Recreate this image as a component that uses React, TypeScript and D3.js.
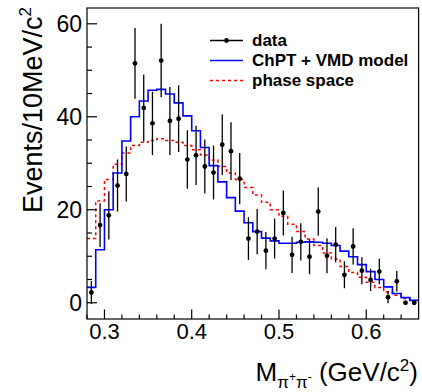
import React from "react";
import * as d3 from "d3";

// Bin lower edges start at 0.28 GeV/c^2, width 0.01
const binLow = [0.28,0.29,0.30,0.31,0.32,0.33,0.34,0.35,0.36,0.37,0.38,0.39,0.40,0.41,0.42,0.43,0.44,0.45,0.46,0.47,0.48,0.49,0.50,0.51,0.52,0.53,0.54,0.55,0.56,0.57,0.58,0.59,0.60,0.61,0.62,0.63,0.64,0.65];
const binWidth = 0.01;

const dataValues = [2.2,16.7,18.8,25.2,27.7,51.5,41.9,38.6,52.1,39.1,39.6,30.8,31.7,29.3,28.0,34.0,32.6,26.7,13.8,15.3,11.2,13.8,19.3,10.3,13.1,9.9,19.6,10.1,12.5,6.0,12.1,6.9,4.9,6.7,1.2,4.6,0,0];
const dataErrors = [2.5,4.7,5.2,5.6,5.9,7.6,7.2,6.8,7.9,7.3,7.2,6.3,6.35,5.8,5.8,6.5,6.2,5.5,4.6,4.85,4.0,4.3,4.85,3.9,4.0,3.75,5.2,3.75,3.8,2.9,3.9,2.9,2.4,2.75,1.3,2.2,0,0];
const modelValues = [3.3,11.4,20.0,27.9,34.8,40.0,43.4,45.7,45.9,44.9,43.0,40.2,37.0,33.4,29.5,26.0,22.6,19.7,17.2,15.3,13.9,13.3,12.8,12.8,13.0,13.1,13.0,12.8,12.3,11.1,9.9,8.2,6.7,5.0,3.4,2.0,1.1,0.5];
const phaseValues = [13.8,21.9,26.5,29.8,32.2,33.8,34.5,34.9,35.3,34.9,34.5,33.8,32.9,31.8,30.7,29.3,27.9,26.5,24.8,23.2,21.6,20.0,18.6,16.9,15.3,13.7,12.3,10.7,9.4,7.8,6.5,5.5,4.4,3.3,2.3,1.6,0.9,0.3];

const xMajorTicks = [0.3, 0.4, 0.5, 0.6];
const xMinorTicks = [0.28,0.32,0.34,0.36,0.38,0.42,0.44,0.46,0.48,0.52,0.54,0.56,0.58,0.62,0.64];
const yMajorTicks = [0, 20, 40, 60];
const yMinorTicks = [5, 10, 15, 25, 30, 35, 45, 50, 55];
const legendLabels = ["data", "ChPT + VMD model", "phase space"];

const W = 422, H = 392;
const frame = { left: 87, right: 418.6, top: 8, bottom: 319 };
const FONT = "'Liberation Sans', Arial, Helvetica, sans-serif";

export default function App() {
  const x = d3.scaleLinear().domain([0.28, 0.66]).range([frame.left, frame.right]);
  const y = d3.scaleLinear().domain([-3.5, 63.4]).range([frame.bottom, frame.top]);

  const stepLine = d3
    .line<[number, number]>()
    .x((d) => x(d[0]))
    .y((d) => y(d[1]))
    .curve(d3.curveStepAfter);

  const histPts = (vals: number[]): [number, number][] => {
    const pts: [number, number][] = binLow.map((b, i) => [b, vals[i]]);
    pts.push([binLow[binLow.length - 1] + binWidth, vals[vals.length - 1]]);
    return pts;
  };

  const legendY = [40.5, 60.5, 80.5];
  const lx0 = 210, lx1 = 243;

  return (
    <svg width={W} height={H} style={{ position: "absolute", left: 0, top: 0, background: "#fff" }} fontFamily={FONT}>
      <defs>
        <clipPath id="plotclip">
          <rect x={frame.left} y={frame.top} width={frame.right - frame.left} height={frame.bottom - frame.top} />
        </clipPath>
      </defs>
      <rect x={0} y={0} width={W} height={H} fill="#fff" />

      <g clipPath="url(#plotclip)">
        <path d={stepLine(histPts(phaseValues)) || ""} fill="none" stroke="#ff0000" strokeWidth={1.5} strokeDasharray="3,3" />
        <path d={stepLine(histPts(modelValues)) || ""} fill="none" stroke="#0000ff" strokeWidth={1.6} />
        {dataValues.map((v, i) => {
          const cx = x(binLow[i] + binWidth / 2);
          const e = dataErrors[i];
          return (
            <g key={i}>
              {e > 0 && (
                <line x1={cx} x2={cx} y1={y(v - e)} y2={y(v + e)} stroke="#000" strokeWidth={1.3} />
              )}
              <circle cx={cx} cy={y(v)} r={2.4} fill="#000" />
            </g>
          );
        })}
      </g>

      {/* frame */}
      <rect x={frame.left} y={frame.top} width={frame.right - frame.left} height={frame.bottom - frame.top} fill="none" stroke="#000" strokeWidth={1.2} />

      {/* y ticks */}
      {yMajorTicks.map((t) => (
        <g key={"ym" + t}>
          <line x1={frame.left} x2={frame.left + 10} y1={y(t)} y2={y(t)} stroke="#000" strokeWidth={1.2} />
          <text x={82} y={y(t)} dy="0.36em" textAnchor="end" fontSize={23}>{t}</text>
        </g>
      ))}
      {yMinorTicks.map((t) => (
        <line key={"yn" + t} x1={frame.left} x2={frame.left + 5} y1={y(t)} y2={y(t)} stroke="#000" strokeWidth={1.2} />
      ))}

      {/* x ticks */}
      {xMajorTicks.map((t) => (
        <g key={"xm" + t}>
          <line x1={x(t)} x2={x(t)} y1={frame.bottom} y2={frame.bottom - 9.5} stroke="#000" strokeWidth={1.2} />
          <text x={x(t)} y={338.5} textAnchor="middle" fontSize={22}>{t.toFixed(1)}</text>
        </g>
      ))}
      {xMinorTicks.map((t) => (
        <line key={"xn" + t} x1={x(t)} x2={x(t)} y1={frame.bottom} y2={frame.bottom - 4.5} stroke="#000" strokeWidth={1.2} />
      ))}

      {/* axis titles */}
      <text transform="translate(42,7) rotate(-90)" textAnchor="end" fontSize={27}>
        Events/10MeV/c<tspan fontSize={17} dy={-11}>2</tspan>
      </text>
      <text x={418} y={381} textAnchor="end" fontSize={26}>
        M<tspan fontSize={17} dy={7}>π</tspan>
        <tspan fontSize={12} dy={-7}>+</tspan>
        <tspan fontSize={17} dy={7}>π</tspan>
        <tspan fontSize={12} dy={-7}>-</tspan>
        <tspan fontSize={26} dy={0}> (GeV/c</tspan>
        <tspan fontSize={17} dy={-10}>2</tspan>
        <tspan fontSize={26} dy={10}>)</tspan>
      </text>

      {/* legend */}
      <g>
        <line x1={lx0} x2={lx1} y1={legendY[0]} y2={legendY[0]} stroke="#000" strokeWidth={1.3} />
        <circle cx={(lx0 + lx1) / 2} cy={legendY[0]} r={2.4} fill="#000" />
        <line x1={lx0} x2={lx1} y1={legendY[1]} y2={legendY[1]} stroke="#0000ff" strokeWidth={1.6} />
        <line x1={lx0} x2={lx1} y1={legendY[2]} y2={legendY[2]} stroke="#ff0000" strokeWidth={1.5} strokeDasharray="3,3" />
        {legendLabels.map((l, i) => (
          <text key={l} x={252} y={legendY[i] + 5.8} fontSize={17} fontWeight="bold">{l}</text>
        ))}
      </g>
    </svg>
  );
}
